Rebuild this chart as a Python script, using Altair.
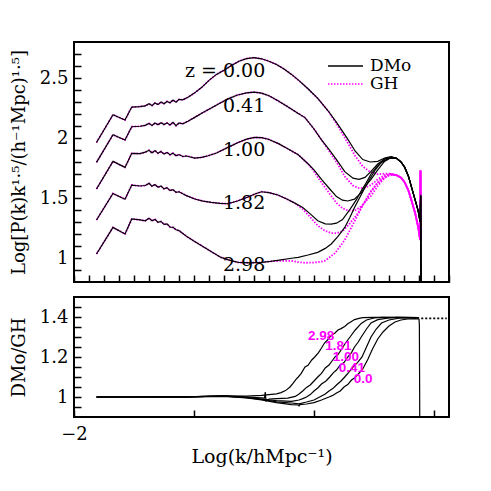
import altair as alt
import pandas as pd

# ---------------- data: top panel, Log[P(k) k^1.5] ----------------
z_names = ["0.00", "0.41", "1.00", "1.82", "2.98"]

low_x = [-1.70, -1.48, -1.32, -1.23, -1.12, -1.05, -1.00, -0.96, -0.92, -0.88,
         -0.84, -0.80, -0.76, -0.72, -0.68, -0.64, -0.60, -0.55]
low_y_000 = [1.963, 2.194, 2.150, 2.258, 2.262, 2.268, 2.285, 2.270, 2.292, 2.278,
             2.300, 2.286, 2.305, 2.294, 2.316, 2.298, 2.322, 2.318]
low_y_041 = [1.797, 2.027, 1.983, 2.094, 2.098, 2.105, 2.122, 2.105, 2.125, 2.110,
             2.128, 2.112, 2.126, 2.108, 2.130, 2.102, 2.125, 2.118]
low_y_100 = [1.575, 1.805, 1.755, 1.872, 1.870, 1.882, 1.898, 1.876, 1.895, 1.872,
             1.888, 1.866, 1.880, 1.860, 1.874, 1.852, 1.862, 1.846]
low_y_182 = [1.317, 1.538, 1.490, 1.608, 1.600, 1.604, 1.622, 1.598, 1.612, 1.590,
             1.600, 1.576, 1.586, 1.562, 1.570, 1.548, 1.552, 1.535]
low_y_298 = [1.033, 1.255, 1.200, 1.325, 1.318, 1.310, 1.332, 1.310, 1.322, 1.298,
             1.305, 1.280, 1.284, 1.258, 1.255, 1.235, 1.228, 1.205]

mid_x_000 = [-0.48, -0.40, -0.30, -0.20, -0.10, 0.00, 0.10, 0.20, 0.30, 0.40, 0.50, 0.60, 0.70,
             0.80, 0.90, 1.00, 1.12, 1.25, 1.39, 1.50, 1.65, 1.75, 1.85, 1.95, 2.05, 2.15, 2.23]
mid_y_000 = [2.340, 2.372, 2.420, 2.480, 2.530, 2.565, 2.605, 2.640, 2.662, 2.670, 2.660, 2.640, 2.612,
             2.575, 2.530, 2.478, 2.410, 2.330, 2.225, 2.130, 1.990, 1.890, 1.820, 1.800, 1.805, 1.835, 1.845]
mid_x_041 = [-0.48, -0.39, -0.28, -0.17, -0.05, 0.06, 0.18, 0.30, 0.40, 0.50, 0.60, 0.72, 0.85, 0.99,
             1.08, 1.20, 1.30, 1.40, 1.50, 1.61, 1.72, 1.80, 1.88, 1.96, 2.05, 2.14, 2.23]
mid_y_041 = [2.140, 2.172, 2.212, 2.250, 2.292, 2.328, 2.358, 2.376, 2.382, 2.374, 2.352, 2.310, 2.260, 2.205,
             2.170, 2.075, 1.985, 1.905, 1.820, 1.720, 1.665, 1.655, 1.672, 1.722, 1.783, 1.825, 1.840]
mid_x_100 = [-0.50, -0.39, -0.30, -0.21, -0.10, -0.04, 0.08, 0.19, 0.30, 0.41, 0.50, 0.59, 0.72, 0.85, 0.99,
             1.12, 1.20, 1.30, 1.41, 1.50, 1.58, 1.65, 1.74, 1.83, 1.90, 1.96, 2.05, 2.14, 2.23]
mid_y_100 = [1.850, 1.833, 1.838, 1.852, 1.875, 1.894, 1.930, 1.963, 1.990, 2.005, 2.003, 1.990, 1.955, 1.910, 1.860,
             1.785, 1.735, 1.655, 1.575, 1.512, 1.482, 1.475, 1.490, 1.545, 1.610, 1.655, 1.735, 1.805, 1.838]
mid_x_182 = [-0.50, -0.39, -0.28, -0.17, -0.05, 0.05, 0.18, 0.32, 0.42, 0.50, 0.60, 0.72, 0.85, 0.95, 1.05,
             1.15, 1.25, 1.35, 1.43, 1.50, 1.58, 1.68, 1.77, 1.83, 1.90, 1.96, 2.03, 2.10, 2.20]
mid_y_182 = [1.520, 1.492, 1.474, 1.463, 1.455, 1.452, 1.475, 1.508, 1.535, 1.552, 1.545, 1.525, 1.488, 1.455, 1.420,
             1.368, 1.310, 1.285, 1.282, 1.290, 1.320, 1.405, 1.490, 1.560, 1.630, 1.700, 1.755, 1.797, 1.832]
mid_x_298 = [-0.48, -0.37, -0.26, -0.15, -0.04, 0.08, 0.19, 0.35, 0.50, 0.62, 0.76, 0.90, 0.99, 1.12,
             1.25, 1.35, 1.43, 1.52, 1.61, 1.68, 1.74, 1.81, 1.88, 1.95, 2.01, 2.08, 2.14, 2.22]
mid_y_298 = [1.172, 1.130, 1.088, 1.045, 1.005, 0.980, 0.963, 0.960, 0.963, 0.972, 0.985, 0.998, 1.005, 1.025,
             1.047, 1.080, 1.117, 1.180, 1.255, 1.340, 1.420, 1.505, 1.588, 1.665, 1.727, 1.785, 1.825, 1.838]

# GH (hydro) curves where they depart from DMo
gh_x_000 = [1.50, 1.65, 1.75, 1.85, 1.95, 2.05, 2.15, 2.23]
gh_y_000 = [2.120, 1.960, 1.850, 1.763, 1.717, 1.698, 1.703, 1.702]
gh_x_041 = [1.40, 1.50, 1.61, 1.72, 1.80, 1.88, 1.96, 2.05, 2.14, 2.23]
gh_y_041 = [1.893, 1.800, 1.680, 1.603, 1.582, 1.585, 1.608, 1.655, 1.690, 1.700]
gh_x_100 = [1.20, 1.30, 1.41, 1.50, 1.58, 1.65, 1.74, 1.83, 1.90, 1.96, 2.05, 2.14, 2.23]
gh_y_100 = [1.722, 1.628, 1.534, 1.458, 1.415, 1.396, 1.393, 1.430, 1.480, 1.518, 1.600, 1.667, 1.698]
gh_x_182 = [1.05, 1.15, 1.25, 1.35, 1.43, 1.50, 1.58, 1.68, 1.77, 1.83, 1.90, 1.96, 2.03, 2.10, 2.20]
gh_y_182 = [1.407, 1.340, 1.270, 1.225, 1.208, 1.206, 1.223, 1.290, 1.360, 1.420, 1.490, 1.557, 1.612, 1.653, 1.690]
gh_x_298 = [0.76, 0.90, 0.99, 1.08, 1.21, 1.34, 1.48, 1.61, 1.74, 1.85, 1.95, 2.05, 2.14, 2.22]
gh_y_298 = [0.976, 0.977, 0.966, 0.960, 0.962, 0.975, 1.040, 1.150, 1.305, 1.440, 1.545, 1.630, 1.682, 1.698]

dmo_tail_x = [2.30, 2.36, 2.41, 2.46, 2.50, 2.55, 2.59, 2.615, 2.622, 2.626]
dmo_tail_y = [1.830, 1.800, 1.755, 1.680, 1.590, 1.480, 1.390, 1.300, 1.520, 0.800]
gh_tail_x = [2.30, 2.36, 2.41, 2.46, 2.50, 2.55, 2.59, 2.615, 2.620, 2.625]
gh_tail_y = [1.690, 1.670, 1.630, 1.560, 1.480, 1.370, 1.255, 1.150, 1.730, 1.150]

zlabel_text = ["z  =  0.00", "0.41", "1.00", "1.82", "2.98"]
zlabel_x = [0.55, 0.55, 0.55, 0.55, 0.55]
zlabel_y = [2.56, 2.27, 1.90, 1.46, 0.94]

# ---------------- data: bottom panel, DMo/GH ----------------
ratio_names = ["2.98", "1.81", "1.00", "0.41", "0.0"]
r_x_298 = [-1.70, -0.50, 0.00, 0.30, 0.50, 0.60, 0.70, 0.76, 0.82, 0.88, 0.92, 0.96, 0.99, 1.03, 1.08, 1.12, 1.17,
           1.21, 1.26, 1.30, 1.34, 1.38, 1.41, 1.45, 1.48, 1.52, 1.56, 1.61, 1.65, 1.70, 1.74, 1.80, 1.85, 2.00, 2.30, 2.60]
r_y_298 = [1.000, 1.001, 1.006, 1.004, 1.008, 1.012, 1.016, 1.022, 1.032, 1.050, 1.068, 1.088, 1.100, 1.118, 1.150,
           1.158, 1.185, 1.200, 1.222, 1.245, 1.270, 1.285, 1.300, 1.312, 1.320, 1.335, 1.342, 1.353, 1.366, 1.378,
           1.387, 1.393, 1.397, 1.398, 1.398, 1.397]
r_x_181 = [-1.70, -0.50, 0.00, 0.30, 0.50, 0.54, 0.55, 0.56, 0.60, 0.70, 0.85, 0.95, 1.00, 1.05, 1.10, 1.15, 1.20,
           1.25, 1.30, 1.35, 1.40, 1.45, 1.48, 1.52, 1.57, 1.62, 1.68, 1.75, 1.83, 1.90, 2.00, 2.10, 2.60]
r_y_181 = [1.000, 1.001, 1.006, 1.000, 0.996, 0.995, 1.025, 0.980, 0.990, 0.992, 0.994, 1.003, 1.015, 1.030, 1.048,
           1.060, 1.080, 1.100, 1.118, 1.145, 1.160, 1.185, 1.200, 1.212, 1.240, 1.270, 1.300, 1.335, 1.368, 1.385,
           1.395, 1.398, 1.397]
r_x_100 = [-1.70, -0.50, 0.00, 0.30, 0.50, 0.70, 0.90, 1.00, 1.05, 1.10, 1.15, 1.20, 1.25, 1.30, 1.36, 1.41, 1.46,
           1.50, 1.55, 1.60, 1.65, 1.70, 1.74, 1.79, 1.83, 1.90, 1.96, 2.05, 2.20, 2.30, 2.60]
r_y_100 = [1.000, 1.001, 1.005, 0.998, 0.990, 0.982, 0.978, 0.985, 0.992, 1.000, 1.012, 1.030, 1.045, 1.065, 1.080,
           1.100, 1.122, 1.135, 1.160, 1.172, 1.200, 1.222, 1.250, 1.275, 1.300, 1.340, 1.370, 1.387, 1.395, 1.398, 1.397]
r_x_041 = [-1.70, -0.50, 0.00, 0.30, 0.50, 0.70, 0.90, 1.00, 1.10, 1.20, 1.30, 1.35, 1.40, 1.45, 1.50, 1.56, 1.61,
           1.66, 1.72, 1.78, 1.84, 1.90, 1.96, 2.03, 2.10, 2.20, 2.35, 2.60]
r_y_041 = [1.000, 1.001, 1.004, 0.997, 0.988, 0.976, 0.970, 0.966, 0.975, 0.985, 1.005, 1.015, 1.030, 1.042, 1.060,
           1.080, 1.100, 1.122, 1.150, 1.172, 1.200, 1.250, 1.300, 1.340, 1.370, 1.385, 1.395, 1.397]
r_x_000 = [-1.70, -0.50, 0.00, 0.30, 0.50, 0.70, 0.90, 0.99, 1.00, 1.01, 1.10, 1.20, 1.30, 1.40, 1.45, 1.50, 1.55,
           1.60, 1.65, 1.70, 1.74, 1.78, 1.85, 1.92, 1.98, 2.05, 2.12, 2.20, 2.28, 2.36, 2.45, 2.55, 2.60, 2.605, 2.61]
r_y_000 = [1.000, 1.001, 1.003, 0.996, 0.986, 0.972, 0.962, 0.960, 0.955, 0.962, 0.965, 0.972, 0.985, 1.000, 1.008,
           1.020, 1.030, 1.050, 1.062, 1.085, 1.095, 1.110, 1.140, 1.190, 1.240, 1.290, 1.325, 1.355, 1.375, 1.385,
           1.390, 1.392, 1.390, 1.360, 0.900]
r_tail_x = [2.63, 2.97]
r_tail_y = [1.393, 1.393]

rlabel_text = ["2.98", "1.81", "1.00", "0.41", "0.0"]
rlabel_x = [1.12, 1.35, 1.45, 1.53, 1.73]
rlabel_y = [1.305, 1.255, 1.20, 1.145, 1.09]

legend_names = ["DMo", "GH"]

# tick positions (labels only on the major ones)
x_ticks = [round(-2 + 0.2 * i, 2) for i in range(0, 26)]
y1_ticks = [round(0.8 + 0.1 * i, 2) for i in range(1, 20)]
y2_ticks = [round(0.9 + 0.05 * i, 2) for i in range(1, 12)]

# ---------------- build tables ----------------
W, H1, H2 = 375, 240, 120
XDOM, Y1DOM, Y2DOM = [-2, 3], [0.8, 2.8], [0.9, 1.5]
TICK = 7   # inward tick length (px)


def rows(name, xs, ys):
    return [{"z": name, "i": i, "x": float(x), "y": float(y)} for i, (x, y) in enumerate(zip(xs, ys))]


low_ys = [low_y_000, low_y_041, low_y_100, low_y_182, low_y_298]
mids = [(mid_x_000, mid_y_000), (mid_x_041, mid_y_041), (mid_x_100, mid_y_100),
        (mid_x_182, mid_y_182), (mid_x_298, mid_y_298)]
ghs = [(gh_x_000, gh_y_000), (gh_x_041, gh_y_041), (gh_x_100, gh_y_100),
       (gh_x_182, gh_y_182), (gh_x_298, gh_y_298)]

dmo_rows, gh_rows = [], []
for name, ly, (mx, my), (gx, gy) in zip(z_names, low_ys, mids, ghs):
    bx = low_x + mx
    by = ly + my
    dmo_rows += rows(name, bx + dmo_tail_x, by + dmo_tail_y)
    keep = [(x, y) for x, y in zip(bx, by) if x < gx[0] - 0.05]
    gh_rows += rows(name, [k[0] for k in keep] + gx + gh_tail_x, [k[1] for k in keep] + gy + gh_tail_y)
dmo_df = pd.DataFrame(dmo_rows)
gh_df = pd.DataFrame(gh_rows)
zlab_df = pd.DataFrame({"x": zlabel_x, "y": zlabel_y, "t": zlabel_text})

ratio_rows = []
for name, xs, ys in zip(ratio_names, [r_x_298, r_x_181, r_x_100, r_x_041, r_x_000],
                        [r_y_298, r_y_181, r_y_100, r_y_041, r_y_000]):
    ratio_rows += rows(name, xs, ys)
ratio_df = pd.DataFrame(ratio_rows)
rtail_df = pd.DataFrame(rows("tail", r_tail_x, r_tail_y))
rlab_df = pd.DataFrame({"x": rlabel_x, "y": rlabel_y, "t": rlabel_text})

# ---------------- chart ----------------
SERIF = "DejaVu Serif"
MAG = "#ff00ff"
tick_style = dict(ticks=True, tickSize=TICK, tickWidth=1.5, tickColor="black", offset=-TICK,
                  labelOverlap=False, labelFlush=False, domain=False, grid=False)

y1_axis = alt.Axis(values=y1_ticks, format="~g", labelPadding=6,
                   labelExpr="abs(datum.value*2 - round(datum.value*2)) < 0.001 ? datum.label : ''",
                   title="Log[P(k)k¹·⁵/(h⁻¹Mpc)¹·⁵]", titleX=-46 - TICK, **tick_style)
y2_axis = alt.Axis(values=y2_ticks, format="~g", labelPadding=6,
                   labelExpr="abs(datum.value*5 - round(datum.value*5)) < 0.001 ? datum.label : ''",
                   title="DMo/GH", titleX=-46 - TICK, **tick_style)
x1_axis = alt.Axis(values=x_ticks, labels=False, title=None, **tick_style)
x2_axis = alt.Axis(values=x_ticks, format="d", labelPadding=8,
                   labelExpr="abs(datum.value - round(datum.value)) < 0.001 ? replace(datum.label, '-', '−') : ''",
                   title="Log(k/hMpc⁻¹)", titlePadding=4, titleFontSize=19, **tick_style)


def X(field, axis):
    return alt.X(field, type="quantitative", scale=alt.Scale(domain=XDOM, nice=False, zero=False), axis=axis)


def Y(field, dom, axis):
    return alt.Y(field, type="quantitative", scale=alt.Scale(domain=dom, nice=False, zero=False), axis=axis)


top_gh = alt.Chart(gh_df).mark_line(color=MAG, strokeWidth=1.8, strokeDash=[1.5, 1.5], clip=True).encode(
    x=X("x", x1_axis), y=Y("y", Y1DOM, y1_axis), detail="z:N", order="i:Q")
top_dmo = alt.Chart(dmo_df).mark_line(color="black", strokeWidth=1.2, clip=True).encode(
    x=X("x", x1_axis), y=Y("y", Y1DOM, y1_axis), detail="z:N", order="i:Q")
top_lab = alt.Chart(zlab_df).mark_text(align="right", baseline="middle", font=SERIF, fontSize=19,
                                        color="black").encode(
    x=X("x", x1_axis), y=Y("y", Y1DOM, y1_axis), text="t:N")
leg_df1 = pd.DataFrame({"s": [legend_names[0]]})
leg_df2 = pd.DataFrame({"s": [legend_names[1]]})
leg_line1 = alt.Chart(leg_df1).mark_rule(color="black", strokeWidth=1.3).encode(
    x=alt.value(254), x2=alt.value(289), y=alt.value(24))
leg_line2 = alt.Chart(leg_df2).mark_rule(color=MAG, strokeWidth=1.7, strokeDash=[1.5, 1.5]).encode(
    x=alt.value(254), x2=alt.value(289), y=alt.value(42))
leg_txt1 = alt.Chart(leg_df1).mark_text(align="left", baseline="middle", font=SERIF, fontSize=17,
                                        color="black").encode(x=alt.value(296), y=alt.value(24), text="s:N")
leg_txt2 = alt.Chart(leg_df2).mark_text(align="left", baseline="middle", font=SERIF, fontSize=17,
                                        color="black").encode(x=alt.value(296), y=alt.value(42), text="s:N")

top = alt.layer(
    top_gh, top_dmo, top_lab, leg_line1, leg_line2, leg_txt1, leg_txt2,
).properties(width=W, height=H1)

bot_lines = alt.Chart(ratio_df).mark_line(color="black", strokeWidth=1.2, clip=True).encode(
    x=X("x", x2_axis), y=Y("y", Y2DOM, y2_axis), detail="z:N", order="i:Q")
bot_tail = alt.Chart(rtail_df).mark_line(color="black", strokeWidth=1.6, strokeDash=[2, 2], clip=True).encode(
    x=X("x", x2_axis), y=Y("y", Y2DOM, y2_axis), order="i:Q")
bot_lab = alt.Chart(rlab_df).mark_text(align="left", baseline="middle", font="Liberation Sans",
                                       fontWeight="bold", fontSize=13.5, color=MAG).encode(
    x=X("x", x2_axis), y=Y("y", Y2DOM, y2_axis), text="t:N")

bottom = alt.layer(bot_lines, bot_tail, bot_lab).properties(width=W, height=H2)

chart = alt.vconcat(top, bottom, spacing=12).properties(
    padding={"left": 0, "top": 33, "right": 5, "bottom": 5}
).configure_view(stroke="black", strokeWidth=2).configure_axis(
    labelFont=SERIF, titleFont=SERIF, labelColor="black", titleColor="black",
    labelFontSize=18, titleFontSize=18, titleFontWeight="normal"
)

chart.save("out.html", embed_options={"renderer": "svg", "actions": False})
